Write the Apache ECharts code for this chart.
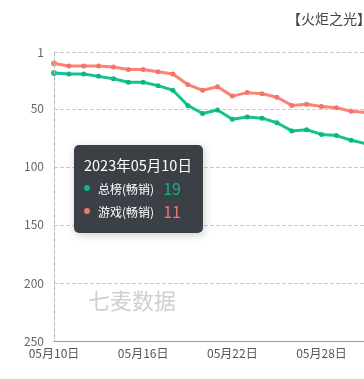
<!DOCTYPE html>
<html><head><meta charset="utf-8">
<script src="https://cdn.jsdelivr.net/npm/echarts@6/dist/echarts.min.js"></script>
<style>html,body{margin:0;padding:0;background:#fff}#c{width:364px;height:379px}</style>
</head><body><div id="c"></div>
<script>
var year = '2023年';
var dates = ['05月10日','05月11日','05月12日','05月13日','05月14日','05月15日','05月16日','05月17日','05月18日','05月19日','05月20日','05月21日','05月22日','05月23日','05月24日','05月25日','05月26日','05月27日','05月28日','05月29日','05月30日','05月31日','06月01日','06月02日','06月03日','06月04日','06月05日','06月06日','06月07日','06月08日'];
var seriesNames = ['总榜(畅销)','游戏(畅销)'];
var totalRank = [19,20,20,22,24,27,27,30,34,47,54,51,59,57,58,62,69,68,72,73,77,80];
var gameRank = [11,13,13,13,14,16,16,18,20,29,34,31,39,36,37,40,47,46,48,49,52,53];
var yTicks = [1,50,100,150,200,250];
var colors = ['#12b385','#f0766a'];

var chart = echarts.init(document.getElementById('c'));
var FONT = '"Noto Sans CJK SC", "Microsoft YaHei", sans-serif';
var FF = FONT.replace(/"/g, "'");
chart.setOption({
  animation: false,
  textStyle: {fontFamily: FONT},
  title: {text: '【火炬之光】：iOS排名趋势', left: 282, top: 7,
    textStyle: {fontSize: 14, fontWeight: 'normal', color: '#444', fontFamily: FONT}},
  graphic: [{type: 'text', left: 88, top: 290, z: 0,
    style: {text: '七麦数据', fontSize: 22, fill: '#cfcfcf', fontFamily: FONT}}],
  grid: {left: 54, top: 52, right: -121, bottom: 38, containLabel: false, outerBoundsMode: 'none'},
  tooltip: {
    trigger: 'axis', triggerOn: 'none', alwaysShowContent: true, transitionDuration: 0,
    position: [74, 145],
    backgroundColor: 'rgba(50,56,62,0.96)', borderWidth: 0, borderRadius: 5, padding: [10, 11, 12, 10],
    axisPointer: {type: 'line', lineStyle: {color: '#bbb', type: 'dashed', width: 1}},
    formatter: function (ps) {
      var h = '<div style="font-size:14.5px;color:#fff;line-height:20px;font-family:' + FF + '">' + year + ps[0].axisValue + '</div>';
      ps.forEach(function (p) {
        h += '<div style="line-height:23px;height:23px;font-family:' + FF + '"><span style="display:inline-block;width:6px;height:6px;border-radius:3px;background:' + p.color + ';margin-right:8px;vertical-align:middle"></span><span style="font-size:12px;color:#fff;vertical-align:middle">' + p.seriesName + '</span><span style="font-size:16px;color:' + p.color + ';margin-left:9px;vertical-align:middle">' + p.value + '</span></div>';
      });
      return h;
    }
  },
  xAxis: {
    type: 'category', data: dates, boundaryGap: false,
    axisLine: {lineStyle: {color: '#9a9a9a'}},
    axisTick: {show: false},
    axisLabel: {interval: 5, color: '#555', fontSize: 12, margin: 6, fontFamily: FONT},
    splitLine: {show: false}
  },
  yAxis: {
    type: 'value', inverse: true, min: yTicks[0], max: yTicks[yTicks.length - 1],
    axisLine: {show: true, lineStyle: {color: '#bbb', type: 'dashed'}},
    axisTick: {show: false, customValues: yTicks},
    axisLabel: {color: '#666', fontSize: 12, margin: 10, fontFamily: FONT, customValues: yTicks},
    splitLine: {lineStyle: {color: '#ccc', type: 'dashed'}}
  },
  series: [
    {name: seriesNames[0], type: 'line', data: totalRank, color: colors[0], symbol: 'circle', symbolSize: 5,
     lineStyle: {width: 3}, z: 3},
    {name: seriesNames[1], type: 'line', data: gameRank, color: colors[1], symbol: 'circle', symbolSize: 5,
     lineStyle: {width: 3}, z: 3}
  ]
});
setTimeout(function(){ chart.dispatchAction({type: 'showTip', seriesIndex: 0, dataIndex: 0}); }, 0);
chart.dispatchAction({type: 'showTip', seriesIndex: 0, dataIndex: 0});
</script></body></html>
